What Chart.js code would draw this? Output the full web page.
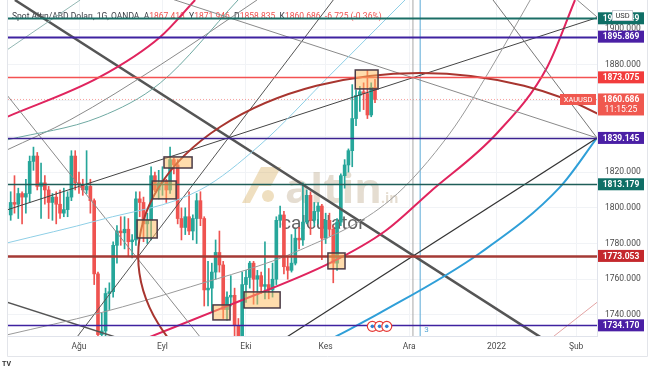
<!DOCTYPE html>
<html>
<head>
<meta charset="utf-8">
<script src="https://cdn.jsdelivr.net/npm/chart.js@4.4.0/dist/chart.umd.min.js"></script>
<style>
  html, body { margin: 0; padding: 0; background: #fff; }
  #wrap { width: 654px; height: 366px; }
</style>
</head>
<body>
<div id="wrap"><canvas id="goldChart" width="654" height="366"></canvas></div>
<script>
// --- DATA (daily bars, bar index 0 = 5 Jul 2021, weekdays only) ---
const firstBar = 2;
const opens = [
  1796,1803,1802,1808,1806,1808,1826,1829,1812,1814,
  1810,1803,1806,1802,1797,1799,1806,1829,1814,1813,
  1810,1812,1804,1763,1729,1731,1752,1753,1779,1787,
  1786,1788,1781,1782,1805,1803,1791,1793,1818,1810,
  1814,1815,1810,1827,1824,1794,1789,1795,1787,1794,
  1804,1794,1754,1755,1764,1775,1768,1743,1750,1751,
  1734,1726,1757,1761,1769,1760,1762,1756,1757,1754,
  1760,1793,1796,1767,1765,1769,1783,1782,1792,1807,
  1793,1798,1801,1783,1793,1788,1769,1792,1818,1824,
  1832,1850,1863,1865,1864,1852,1867.418
];
const highs = [
  1809,1818,1811,1809,1816,1829,1834,1831,1825,1818,
  1812,1808,1809,1810,1811,1809,1832,1832,1820,1816,
  1832,1816,1805,1764,1741,1755,1758,1781,1790,1795,
  1795,1794,1785,1809,1809,1806,1797,1823,1820,1821,
  1823,1816,1834,1828,1827,1800,1800,1809,1796,1808,
  1809,1795,1770,1769,1782,1787,1770,1753,1762,1755,
  1738,1764,1765,1770,1770,1765,1764,1781,1766,1769,
  1795,1801,1798,1773,1785,1788,1789,1814,1810,1809,
  1803,1803,1802,1797,1797,1790,1794,1819,1827,1833,
  1869,1866,1868,1870,1877,1870,1871.946
];
const lows = [
  1793,1797,1794,1791,1797,1803,1821,1810,1794,1802,
  1794,1793,1791,1794,1795,1795,1804,1810,1808,1807,
  1808,1797,1757,1684,1718,1728,1743,1750,1769,1779,
  1777,1773,1772,1779,1795,1781,1780,1782,1809,1805,
  1807,1803,1808,1819,1791,1782,1785,1785,1782,1780,
  1790,1745,1745,1742,1760,1764,1738,1737,1745,1725,
  1721,1722,1747,1755,1746,1746,1752,1749,1749,1750,
  1757,1789,1763,1760,1764,1768,1777,1779,1791,1785,
  1790,1791,1771,1780,1784,1758,1765,1790,1811,1820,
  1823,1846,1854,1855,1850,1851,1858.835
];
const closes = [
  1803,1802,1808,1806,1808,1826,1829,1812,1814,1810,
  1803,1806,1802,1797,1799,1806,1829,1814,1813,1810,
  1812,1804,1763,1729,1731,1752,1753,1779,1787,1786,
  1788,1781,1782,1805,1803,1791,1793,1818,1810,1814,
  1815,1810,1827,1824,1794,1789,1795,1787,1794,1804,
  1794,1754,1755,1764,1775,1768,1743,1750,1751,1734,
  1726,1757,1761,1769,1760,1762,1756,1757,1754,1760,
  1793,1796,1767,1765,1769,1783,1782,1792,1807,1793,
  1798,1801,1783,1793,1788,1769,1792,1818,1824,1832,
  1850,1863,1865,1864,1852,1867.411,1860.686
];

// time axis: bar index of the first bar of each month
const monthTicks = [20, 42, 64, 85, 107, 130, 151];
const monthLabels = ['Ağu', 'Eyl', 'Eki', 'Kes', 'Ara', '2022', 'Şub'];
const priceTicks = [1740, 1760, 1780, 1800, 1820, 1840, 1860, 1880, 1900];

// horizontal levels
const levelValues = [1906.149, 1895.869, 1873.075, 1839.145, 1813.179, 1773.053, 1734.170];
const levelLineColors = ['#1b6e66', '#3f22a0', '#f45252', '#3b2290', '#1f5e58', '#a53a35', '#3f22a0'];
const levelBoxColors = ['#0f6f66', '#4a1fa5', '#f23c3c', '#4a1fa5', '#0f6f66', '#c4282d', '#4a1fa5'];
const levelWidths = [2, 2, 1.5, 1.5, 1.5, 2.5, 1.5];

// drawings, points as [bar index, price]
const trendThick = [[3.1, 1916.4], [141.5, 1727.7]];
const trendToPivot = [[74.8, 1727.7], [156.5, 1839.145]];
const trendSteep = [[19.5, 1727.7], [87.0, 1916.4]];
const trendLong = [[1.0, 1798.8], [156.5, 1906.5]];
const trendDownA = [[45.0, 1916.6], [156.5, 1839.145]];
const trendDownB = [[129.1, 1916.4], [156.5, 1839.145]];
const trendTop = [[151.3, 1916.4], [156.5, 1906.9]];
const trendPinkLow = [[144.9, 1727.7], [157.3, 1748.4]];
const trendLowLeft = [[-0.8, 1748.4], [29.5, 1727.7]];
const trendGrayLeft = [[1.0, 1863.2], [51.9, 1727.7]];
const trendTealTop = [[1.0, 1888.4], [20.3, 1916.4]];

const arcPink = [[38.7, 1727.7], [59.8, 1745.6], [86.2, 1769.1], [100.7, 1787.0], [112.5, 1808.9], [130.2, 1841.9], [143.4, 1878.9], [150.7, 1916.4]];
const arcBlue = [[87.5, 1727.7], [99.3, 1741.1], [125.7, 1774.7], [146.8, 1811.7], [156.5, 1839.145]];
const arcGray = [[1.0, 1728.8], [25.5, 1741.1], [49.3, 1755.7], [78.3, 1776.4], [102.0, 1804.4], [117.8, 1841.9], [128.3, 1877.2], [138.9, 1916.4]];
const arcLightBlue = [[1.0, 1780.3], [25.5, 1793.2], [51.9, 1810.0], [67.7, 1835.2], [86.2, 1874.4], [105.9, 1916.4]];
const arcPinkTop = [[1.0, 1850.9], [25.5, 1873.3], [41.4, 1895.7], [50.6, 1916.4]];
const arcGrayTop = [[1.0, 1832.4], [17.6, 1849.2], [41.4, 1880.0], [66.9, 1916.4]];
const arcTealTop = [[1.0, 1838.0], [25.5, 1850.9], [41.4, 1869.9], [61.9, 1916.4]];

const circleCenter = [109.9, 1773.053];
const circleRadius = [74.3, 102.5];

const verticalBars = [108.0, 109.9];
const eventBars = [97.3, 99.2, 101.1];

// boxes: [from bar, to bar, top price, bottom price]
const boxes = [
  [35.3, 40.6, 1793.2, 1783.1],
  [39.3, 45.6, 1815.0, 1805.0],
  [42.4, 49.8, 1828.5, 1822.3],
  [55.3, 59.8, 1745.6, 1737.2],
  [63.5, 73.0, 1752.9, 1743.9],
  [85.6, 90.1, 1774.7, 1765.8],
  [92.8, 98.8, 1877.2, 1866.6]
];

// --- STYLE ---
Chart.defaults.font.family = "Roboto, 'Liberation Sans', Arial, sans-serif";
const UP = '#26a69a';
const DOWN = '#ef5350';
const FONT = "Roboto, 'Liberation Sans', Arial, sans-serif";

const last = opens.length - 1;
const lastPrice = closes[last];
const candleColors = opens.map((o, i) => closes[i] >= o ? UP : DOWN);

function lineSet(points, color, width, smooth) {
  const ds = {
    type: 'line',
    data: points.map(p => ({ x: p[0], y: p[1] })),
    borderColor: color,
    borderWidth: width,
    pointRadius: 0,
    fill: false,
    order: 1
  };
  if (smooth) ds.cubicInterpolationMode = 'monotone';
  return ds;
}

const drawingSets = [
  lineSet(arcLightBlue, '#8fcfe6', 1, true),
  lineSet(arcTealTop, '#6fa9a2', 1, true),
  lineSet(arcGrayTop, '#8a8a8a', 1, true),
  lineSet(arcGray, '#9a9a9a', 1, true),
  lineSet(trendTealTop, '#93b8b4', 1),
  lineSet(trendGrayLeft, '#8a8a8a', 1),
  lineSet(trendDownA, '#8a8a8a', 1),
  lineSet(trendDownB, '#777', 1),
  lineSet(trendTop, '#8a8a8a', 1),
  lineSet(trendLong, '#444', 1),
  lineSet(trendSteep, '#555', 1),
  lineSet(trendToPivot, '#333', 1.2),
  lineSet(trendLowLeft, '#555', 1.5),
  lineSet(trendPinkLow, '#e3a3a3', 1),
  lineSet(arcPinkTop, '#e0245e', 2, true),
  lineSet(arcPink, '#e0245e', 2, true),
  lineSet(arcBlue, '#2f9fd8', 2, true),
  lineSet(trendThick, '#555', 2.5),
  lineSet([[verticalBars[0], 1700], [verticalBars[0], 1950]], '#a8a8a8', 1),
  lineSet([[verticalBars[1], 1700], [verticalBars[1], 1950]], '#5aa9d6', 1)
];

const overlay = {
  id: 'overlay',
  beforeDatasetsDraw(chart) {
    const { ctx, chartArea: a, scales: { y } } = chart;
    ctx.save();
    ctx.beginPath();
    ctx.rect(a.left, a.top, a.right - a.left, a.bottom - a.top);
    ctx.clip();

    // watermark
    ctx.fillStyle = 'rgba(214,170,90,0.38)';
    ctx.beginPath();
    ctx.moveTo(242, 203); ctx.lineTo(261, 167); ctx.lineTo(281, 167);
    ctx.lineTo(271, 186); ctx.lineTo(259, 186); ctx.lineTo(250, 203);
    ctx.closePath(); ctx.fill();
    ctx.beginPath(); ctx.arc(268, 196, 6, 0, Math.PI * 2); ctx.fill();
    ctx.fillStyle = 'rgba(190,170,140,0.4)';
    ctx.font = 'bold 42px "Open Sans", ' + FONT;
    ctx.textBaseline = 'alphabetic';
    ctx.fillText('altin', 285, 203);
    ctx.font = 'bold 14px "Open Sans", ' + FONT;
    ctx.fillText('.in', 381, 203);
    ctx.fillStyle = 'rgba(70,70,70,0.85)';
    ctx.font = '19px ' + FONT;
    ctx.fillText('calculator', 281, 229);

    // legend
    const chg = closes[last] - closes[last - 1];
    const pct = chg / closes[last - 1] * 100;
    const parts = [
      ['Spot Altın/ABD Doları, 1G, OANDA  ', '#3a3d45'],
      ['A', '#3a3d45'], [opens[last].toFixed(3) + '  ', DOWN],
      ['Y', '#3a3d45'], [highs[last].toFixed(3) + '  ', DOWN],
      ['D', '#3a3d45'], [lows[last].toFixed(3) + '  ', DOWN],
      ['K', '#3a3d45'], [closes[last].toFixed(3) + '  ', DOWN],
      [chg.toFixed(3) + ' (' + pct.toFixed(2) + '%)', DOWN]
    ];
    ctx.font = '8.5px ' + FONT;
    let lx = a.left + 4;
    parts.forEach(([t, c]) => {
      ctx.fillStyle = c;
      ctx.fillText(t, lx, 19);
      lx += ctx.measureText(t).width;
    });

    // last price dotted line
    const py = y.getPixelForValue(lastPrice);
    ctx.setLineDash([1, 2]);
    ctx.strokeStyle = 'rgba(239,83,80,0.55)';
    ctx.lineWidth = 1;
    ctx.beginPath(); ctx.moveTo(a.left, py); ctx.lineTo(a.right, py); ctx.stroke();
    ctx.restore();
  },
  afterDatasetsDraw(chart) {
    const { ctx, chartArea: a, scales: { x, y } } = chart;
    ctx.save();
    ctx.beginPath();
    ctx.rect(a.left, a.top, a.right - a.left, a.bottom - a.top);
    ctx.clip();

    // fib circle
    const cx = x.getPixelForValue(circleCenter[0]);
    const cy = y.getPixelForValue(circleCenter[1]);
    const rx = x.getPixelForValue(circleCenter[0] + circleRadius[0]) - cx;
    const ry = cy - y.getPixelForValue(circleCenter[1] + circleRadius[1]);
    ctx.strokeStyle = '#a8352f';
    ctx.lineWidth = 2;
    ctx.beginPath(); ctx.ellipse(cx, cy, rx, ry, 0, 0, Math.PI * 2); ctx.stroke();

    // horizontal levels
    levelValues.forEach((v, i) => {
      const py = Math.round(y.getPixelForValue(v)) + 0.5;
      ctx.strokeStyle = levelLineColors[i];
      ctx.lineWidth = levelWidths[i];
      ctx.beginPath(); ctx.moveTo(a.left, py); ctx.lineTo(a.right, py); ctx.stroke();
    });

    // boxes
    boxes.forEach(b => {
      const x0 = x.getPixelForValue(b[0]), x1 = x.getPixelForValue(b[1]);
      const y0 = y.getPixelForValue(b[2]), y1 = y.getPixelForValue(b[3]);
      ctx.fillStyle = 'rgba(255,186,90,0.5)';
      ctx.fillRect(x0, y0, x1 - x0, y1 - y0);
      ctx.strokeStyle = '#4b3b47';
      ctx.lineWidth = 1.5;
      ctx.strokeRect(x0, y0, x1 - x0, y1 - y0);
    });

    // event icons
    const ey = y.getPixelForValue(levelValues[6]);
    eventBars.forEach(e => {
      const ex = x.getPixelForValue(e);
      ctx.fillStyle = '#fff';
      ctx.strokeStyle = '#e53935';
      ctx.lineWidth = 1.2;
      ctx.beginPath(); ctx.arc(ex, ey + 1, 5, 0, Math.PI * 2); ctx.fill(); ctx.stroke();
      ctx.fillStyle = '#2f7fd0';
      ctx.beginPath(); ctx.arc(ex, ey + 1, 1.8, 0, Math.PI * 2); ctx.fill();
    });

    ctx.fillStyle = '#5aa9d6';
    ctx.font = '8px ' + FONT;
    ctx.fillText('3', x.getPixelForValue(verticalBars[1]) + 4, a.bottom - 4);
    ctx.restore();
  },
  afterDraw(chart) {
    const { ctx, chartArea: a, scales: { y } } = chart;
    ctx.save();
    ctx.textAlign = 'center';
    ctx.textBaseline = 'middle';
    const bx = a.right + 1, bw = 46, mid = a.right + 24;

    levelValues.forEach((v, i) => {
      const py = y.getPixelForValue(v);
      ctx.fillStyle = levelBoxColors[i];
      ctx.fillRect(bx, py - 6, bw, 12);
      ctx.fillStyle = '#fff';
      ctx.font = 'bold 8.5px ' + FONT;
      ctx.fillText(v.toFixed(3), mid, py + 0.5);
    });

    // last price label
    const py = y.getPixelForValue(lastPrice);
    ctx.fillStyle = '#f0584f';
    ctx.fillRect(bx, py - 6, bw, 22);
    ctx.fillStyle = '#fff';
    ctx.font = 'bold 8.5px ' + FONT;
    ctx.fillText(lastPrice.toFixed(3), mid, py + 0.5);
    ctx.font = '8.5px ' + FONT;
    ctx.fillText('11:15:25', mid, py + 10);

    ctx.fillStyle = '#f0584f';
    ctx.fillRect(a.right - 37, py - 5.5, 36, 11);
    ctx.fillStyle = '#fff';
    ctx.font = '7.5px ' + FONT;
    ctx.fillText('XAUUSD', a.right - 19, py + 0.5);

    // currency badge
    ctx.fillStyle = '#fff';
    ctx.fillRect(a.right + 15, 10, 21, 11);
    ctx.strokeStyle = '#c9ccd3';
    ctx.lineWidth = 1;
    ctx.strokeRect(a.right + 15.5, 10.5, 20, 10);
    ctx.fillStyle = '#333';
    ctx.font = '7.5px ' + FONT;
    ctx.fillText('USD', a.right + 25.5, 16);

    // panel borders
    ctx.strokeStyle = '#e3e5ea';
    ctx.beginPath();
    ctx.moveTo(a.left - 0.5, 0); ctx.lineTo(a.left - 0.5, a.bottom + 20.5);
    ctx.lineTo(a.right + 50.5, a.bottom + 20.5); ctx.lineTo(a.right + 50.5, 0);
    ctx.stroke();

    ctx.textAlign = 'left';
    ctx.fillStyle = '#333';
    ctx.font = 'bold 7px ' + FONT;
    ctx.fillText('TV', 2, 364);
    ctx.restore();
  }
};

new Chart(document.getElementById('goldChart'), {
  type: 'bar',
  data: {
    datasets: drawingSets.concat([
      {
        type: 'bar',
        data: opens.map((o, i) => ({ x: firstBar + i, y: [lows[i], highs[i]] })),
        backgroundColor: candleColors,
        barThickness: 1,
        grouped: false,
        order: 11
      },
      {
        type: 'bar',
        data: opens.map((o, i) => ({ x: firstBar + i, y: [o, closes[i]] })),
        backgroundColor: candleColors,
        barThickness: 3,
        minBarLength: 1,
        grouped: false,
        order: 10
      }
    ])
  },
  options: {
    responsive: false,
    animation: false,
    events: [],
    layout: { padding: { left: 8, right: 7, top: 0, bottom: 10 } },
    plugins: { legend: { display: false }, tooltip: { enabled: false } },
    scales: {
      x: {
        type: 'linear',
        min: 1.29,
        max: 156.5,
        offset: false,
        grid: { color: '#f1f3f6', drawTicks: false, offset: false },
        border: { color: '#e0e3eb' },
        afterBuildTicks: s => { s.ticks = monthTicks.map(v => ({ value: v })); },
        afterFit: s => { s.height = 20; s.paddingLeft = 0; s.paddingRight = 0; },
        ticks: {
          autoSkip: false,
          maxRotation: 0,
          padding: 6,
          color: '#4a4a4a',
          font: { size: 8.5 },
          callback: v => monthLabels[monthTicks.indexOf(v)]
        }
      },
      y: {
        position: 'right',
        min: 1728.2,
        max: 1916.4,
        grid: { color: '#f1f3f6', drawTicks: false },
        border: { color: '#e0e3eb' },
        afterBuildTicks: s => { s.ticks = priceTicks.map(v => ({ value: v })); },
        afterFit: s => { s.width = 50; s.paddingTop = 0; s.paddingBottom = 0; },
        ticks: {
          padding: 8,
          crossAlign: 'center',
          color: '#4a4a4a',
          font: { size: 8.5 },
          callback: v => v.toFixed(3)
        }
      }
    }
  },
  plugins: [overlay]
});
</script>
</body>
</html>
